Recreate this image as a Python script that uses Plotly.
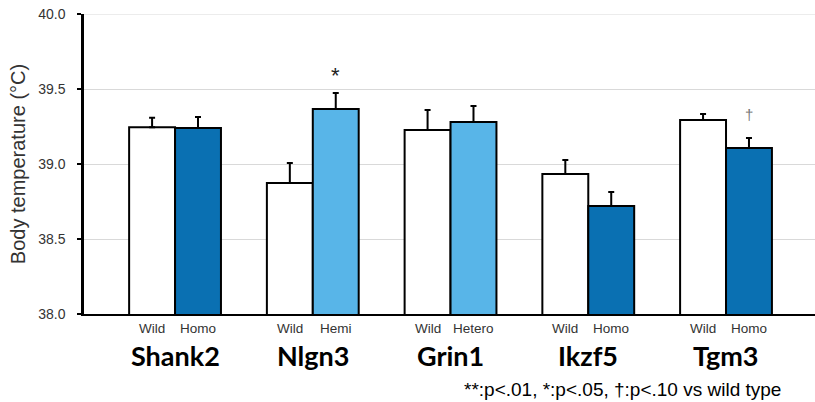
import plotly.graph_objects as go

genes = ["Shank2", "Nlgn3", "Grin1", "Ikzf5", "Tgm3"]
wild_labels = ["Wild", "Wild", "Wild", "Wild", "Wild"]
mut_labels = ["Homo", "Hemi", "Hetero", "Homo", "Homo"]
wild_mean = [39.245, 38.873, 39.227, 38.933, 39.293]
wild_sem = [0.064, 0.134, 0.133, 0.094, 0.040]
mut_mean = [39.240, 39.367, 39.280, 38.720, 39.107]
mut_sem = [0.073, 0.106, 0.107, 0.093, 0.066]
significance = ["", "*", "", "", "†"]
y_ticks = [38.0, 38.5, 39.0, 39.5, 40.0]
footnote = "**:p<.01, *:p<.05, †:p<.10 vs wild type"

DARK = "#0A70B2"
LIGHT = "#58B5E8"
mut_colors = [DARK, LIGHT, LIGHT, DARK, DARK]

x = list(range(len(genes)))
fig = go.Figure()
fig.add_trace(go.Bar(
    x=x, y=wild_mean, base=0, name="Wild",
    marker=dict(color="white", line=dict(color="black", width=2)),
    error_y=dict(type="data", symmetric=False, array=wild_sem,
                 arrayminus=[0] * len(genes), color="black", thickness=2, width=3),
))
fig.add_trace(go.Bar(
    x=x, y=mut_mean, base=0, name="Mutant",
    marker=dict(color=mut_colors, line=dict(color="black", width=2)),
    error_y=dict(type="data", symmetric=False, array=mut_sem,
                 arrayminus=[0] * len(genes), color="black", thickness=2, width=3),
))

half = (1 - 1 / 3) / 4
small_font = dict(family="Liberation Sans, Arial", size=13.5, color="#333")
annotations = []
for i, g in enumerate(genes):
    annotations.append(dict(x=i - half, y=-0.047, xref="x", yref="paper", text=wild_labels[i],
                            showarrow=False, yanchor="middle", font=small_font))
    annotations.append(dict(x=i + half, y=-0.047, xref="x", yref="paper", text=mut_labels[i],
                            showarrow=False, yanchor="middle", font=small_font))
    annotations.append(dict(x=i, y=-0.137, xref="x", yref="paper", text="<b>" + g + "</b>",
                            showarrow=False, yanchor="middle",
                            font=dict(family="Lato, Open Sans, Arial", size=27, color="black")))
    if significance[i]:
        sym = significance[i]
        annotations.append(dict(x=i + half, y=mut_mean[i] + mut_sem[i], xref="x", yref="y",
                                text=sym, showarrow=False, yanchor="bottom",
                                yshift=3 if sym == "*" else 13,
                                font=dict(family="Liberation Sans, Arial", size=22 if sym == "*" else 15,
                                          color="#222" if sym == "*" else "#777")))
annotations.append(dict(x=(783 - 84) / 731, y=-0.253, xref="paper", yref="paper", text=footnote,
                        showarrow=False, xanchor="right", yanchor="middle",
                        font=dict(family="Liberation Sans, Arial", size=19, color="black")))

fig.update_layout(
    width=815, height=402,
    margin=dict(l=84, r=0, t=14, b=88, autoexpand=False),
    paper_bgcolor="white", plot_bgcolor="white",
    barmode="group", bargap=1 / 3, bargroupgap=0,
    showlegend=False,
    annotations=annotations,
    font=dict(family="Liberation Sans, Arial", color="#333"),
    shapes=[dict(type="line", xref="paper", yref="y", x0=0, x1=1, y0=y_ticks[-1], y1=y_ticks[-1],
                 line=dict(color="#D9D9D9", width=1), layer="below")],
)
fig.update_xaxes(range=[-0.661, 4.646], showline=True, linecolor="black", linewidth=2,
                 showticklabels=False, ticks="", showgrid=False, zeroline=False, automargin=False)
fig.update_yaxes(range=[38.0, 40.0], tickvals=y_ticks, tickformat=".1f", automargin=False,
                 showline=True, linecolor="black", linewidth=2.5, ticks="outside",
                 ticklen=4, tickwidth=2, tickcolor="black", ticklabeloverflow="allow",
                 showgrid=True, gridcolor="#D9D9D9", gridwidth=1, zeroline=False,
                 tickfont=dict(size=14, color="#333"), ticklabelstandoff=9,
                 title=dict(text="Body temperature (°C)", font=dict(size=20, color="#333"), standoff=8))

fig.write_html("out.html", config={"displayModeBar": False},
               post_script="document.body.style.margin='0px';")
